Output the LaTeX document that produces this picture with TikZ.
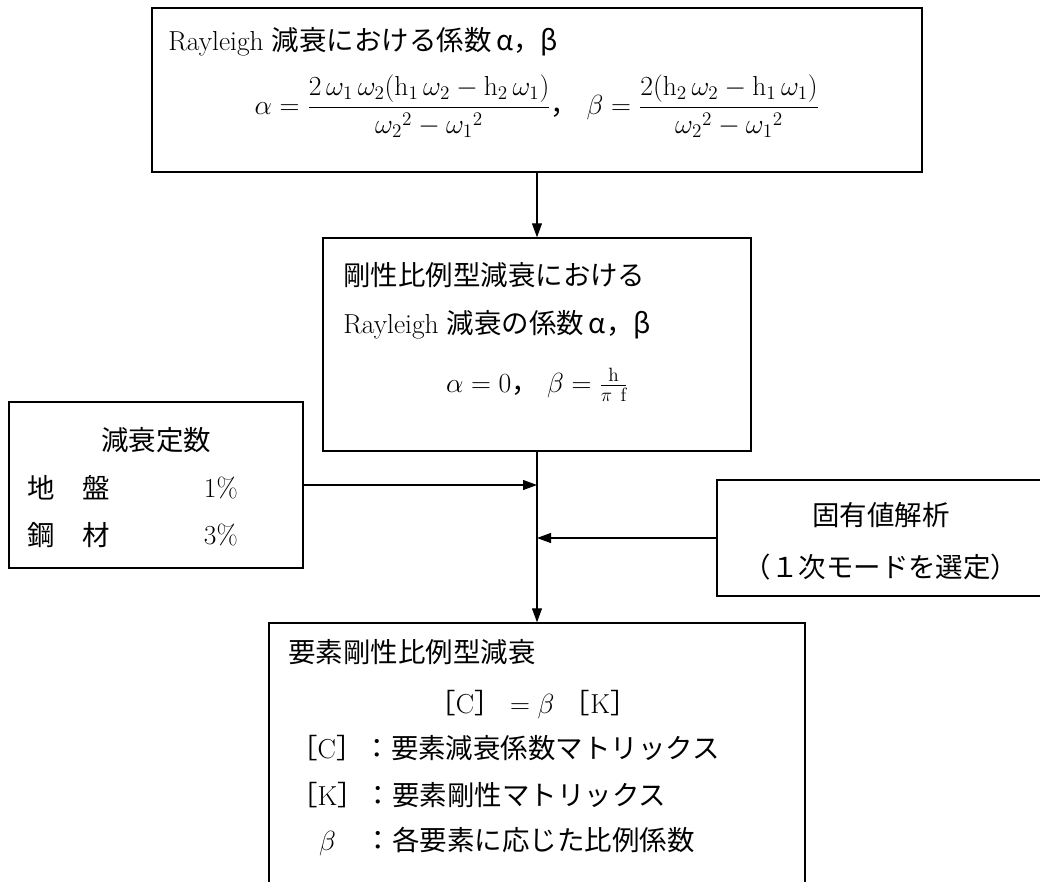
\documentclass[tikz,border=0pt]{standalone}
\usepackage{fontspec}
\newfontfamily\jp{Noto Sans CJK JP}
\usetikzlibrary{arrows.meta,positioning}
\tikzset{
  box/.style={draw, line width=1.1pt, inner sep=0pt},
  arr/.style={-{Triangle[length=10.5pt,width=7.5pt]}, line width=0.8pt},
  txt/.style={inner sep=0pt, anchor=west},
  mid/.style={inner sep=0pt, anchor=center},
}
\begin{document}
\begin{tikzpicture}[x=0.75pt, y=-0.75pt, font=\fontsize{20.6}{24}\selectfont]
  \useasboundingbox (0,0) rectangle (1040,882);
  \clip (0,0) rectangle (1040,882);

  % Boxes
  \node[box, minimum width=577.5pt, minimum height=123pt] (rayleigh) at (537,90) {};
  \node[box, minimum width=321pt, minimum height=159.75pt] (stiff) at (537,344.5) {};
  \node[box, minimum width=220.5pt, minimum height=124.5pt] (damp) at (156,485) {};
  \node[box, minimum width=246pt, minimum height=87pt] (eigen) at (881,538) {};
  \node[box, minimum width=402pt, minimum height=225pt] (elem) at (537,773) {};

  % Rayleigh damping
  \node[txt] (rtitle) at (168,42) {Rayleigh {\jp 減衰における係数\,α，β}};
  \node[mid] (rform) at (537,106) {$\displaystyle\alpha=\frac{2\,\omega_{1}\,\omega_{2}\bigl(\mathrm{h}_{1}\,\omega_{2}-\mathrm{h}_{2}\,\omega_{1}\bigr)}{{\omega_{2}}^{2}-{\omega_{1}}^{2}}${\jp ，}\ $\displaystyle\beta=\frac{2\bigl(\mathrm{h}_{2}\,\omega_{2}-\mathrm{h}_{1}\,\omega_{1}\bigr)}{{\omega_{2}}^{2}-{\omega_{1}}^{2}}$};

  % Stiffness proportional damping
  \node[txt] (stitle) at (343,275) {\jp 剛性比例型減衰における};
  \node[txt] (ssub) at (343,325) {Rayleigh {\jp 減衰の係数\,α，β}};
  \node[mid] (sform) at (537,385) {$\alpha=0${\jp ，}\ $\beta=\frac{\mathrm{h}}{\pi\ \mathrm{f}}$};

  % Damping constants
  \node[mid] (dtitle) at (156,440) {\jp 減衰定数};
  \node[txt] (ground) at (27,488) {\jp 地　盤};
  \node[inner sep=0pt, anchor=east] (groundval) at (238,488) {1\%};
  \node[txt] (steel) at (27,535) {\jp 鋼　材};
  \node[inner sep=0pt, anchor=east] (steelval) at (238,535) {3\%};

  % Eigenvalue analysis
  \node[mid] (etitle) at (881,515) {\jp 固有値解析};
  \node[mid] (esub) at (881,567) {\jp （１次モードを選定）};

  % Element stiffness proportional damping
  \node[txt] (ltitle) at (288,652) {\jp 要素剛性比例型減衰};
  \node[mid] (lform) at (533,705) {{\jp ［}C{\jp ］}\ $=\beta$\ {\jp ［}K{\jp ］}};
  \node[txt] (lc) at (290,748) {{\jp ［}C{\jp ］：要素減衰係数マトリックス}};
  \node[txt] (lk) at (290,795) {{\jp ［}K{\jp ］：要素剛性マトリックス}};
  \node[txt] (lb) at (290,842) {\makebox[2.72em][c]{$\beta$}{\jp ：各要素に応じた比例係数}};

  % Connectors
  \coordinate (jl) at (stiff.south |- damp.east);
  \coordinate (jr) at (stiff.south |- eigen.west);
  \draw[arr] (rayleigh.south) -- (stiff.north);
  \draw[arr] (stiff.south) -- (elem.north);
  \draw[arr] (damp.east) -- (jl);
  \draw[arr] (eigen.west) -- (jr);
\end{tikzpicture}
\end{document}
